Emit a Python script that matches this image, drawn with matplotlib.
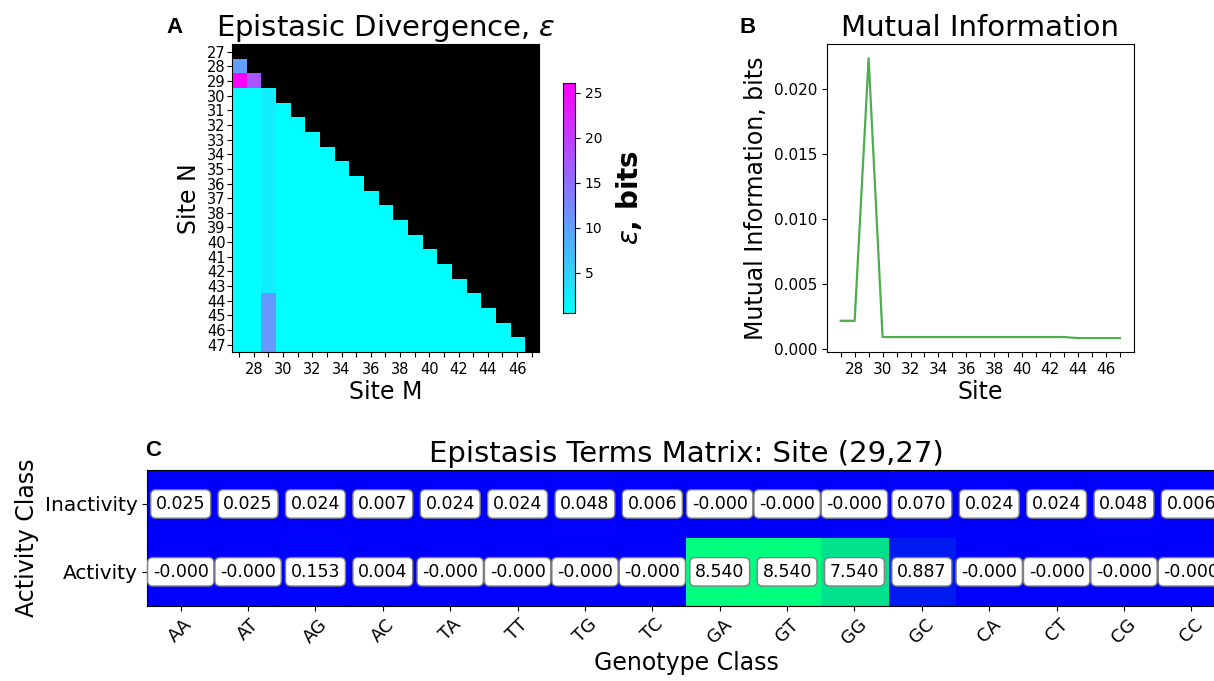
import numpy as np
import matplotlib
matplotlib.use("Agg")
import matplotlib.pyplot as plt

# ---- panel A: epistatic divergence, lower triangle (row = site N, col = site M)
sites = list(range(27, 48))
eps_rows = {
    28: [10.3],
    29: [26.1, 17.6],
    30: [0.55, 0.55, 2.4],
    31: [0.55, 0.55, 2.4, 0.55],
    32: [0.55, 0.55, 2.4, 0.55, 0.55],
    33: [0.55, 0.55, 2.4, 0.55, 0.55, 0.55],
    34: [0.55, 0.55, 2.4, 0.55, 0.55, 0.55, 0.55],
    35: [0.55, 0.55, 2.4, 0.55, 0.55, 0.55, 0.55, 0.55],
    36: [0.55, 0.55, 2.4, 0.55, 0.55, 0.55, 0.55, 0.55, 0.55],
    37: [0.55, 0.55, 2.4, 0.55, 0.55, 0.55, 0.55, 0.55, 0.55, 0.55],
    38: [0.55, 0.55, 2.4, 0.55, 0.55, 0.55, 0.55, 0.55, 0.55, 0.55, 0.55],
    39: [0.55, 0.55, 2.4, 0.55, 0.55, 0.55, 0.55, 0.55, 0.55, 0.55, 0.55, 0.55],
    40: [0.55, 0.55, 2.4, 0.55, 0.55, 0.55, 0.55, 0.55, 0.55, 0.55, 0.55, 0.55, 0.55],
    41: [0.55, 0.55, 2.4, 0.55, 0.55, 0.55, 0.55, 0.55, 0.55, 0.55, 0.55, 0.55, 0.55, 0.55],
    42: [0.55, 0.55, 2.4, 0.55, 0.55, 0.55, 0.55, 0.55, 0.55, 0.55, 0.55, 0.55, 0.55, 0.55, 0.55],
    43: [0.55, 0.55, 2.4, 0.55, 0.55, 0.55, 0.55, 0.55, 0.55, 0.55, 0.55, 0.55, 0.55, 0.55, 0.55, 0.55],
    44: [0.55, 0.55, 10.8, 0.55, 0.55, 0.55, 0.55, 0.55, 0.55, 0.55, 0.55, 0.55, 0.55, 0.55, 0.55, 0.55, 0.55],
    45: [0.55, 0.55, 10.8, 0.55, 0.55, 0.55, 0.55, 0.55, 0.55, 0.55, 0.55, 0.55, 0.55, 0.55, 0.55, 0.55, 0.55, 0.55],
    46: [0.55, 0.55, 10.8, 0.55, 0.55, 0.55, 0.55, 0.55, 0.55, 0.55, 0.55, 0.55, 0.55, 0.55, 0.55, 0.55, 0.55, 0.55, 0.55],
    47: [0.55, 0.55, 10.8, 0.55, 0.55, 0.55, 0.55, 0.55, 0.55, 0.55, 0.55, 0.55, 0.55, 0.55, 0.55, 0.55, 0.55, 0.55, 0.55, 0.55],
}

# ---- panel B: mutual information per site
mi_values = [0.0022, 0.0022, 0.0224, 0.00095, 0.00095, 0.00095, 0.00095,
             0.00095, 0.00095, 0.00095, 0.00095, 0.00095, 0.00095, 0.00095,
             0.00095, 0.00095, 0.00095, 0.00087, 0.00087, 0.00087, 0.00087]

# ---- panel C: epistasis terms matrix
genotypes = ["AA", "AT", "AG", "AC", "TA", "TT", "TG", "TC",
             "GA", "GT", "GG", "GC", "CA", "CT", "CG", "CC"]
classes = ["Inactivity", "Activity"]
inactivity = [0.025, 0.025, 0.024, 0.007, 0.024, 0.024, 0.048, 0.006,
              -0.0001, -0.0001, -0.0001, 0.070, 0.024, 0.024, 0.048, 0.006]
activity = [-0.0001, -0.0001, 0.153, 0.004, -0.0001, -0.0001, -0.0001, -0.0001,
            8.540, 8.540, 7.540, 0.887, -0.0001, -0.0001, -0.0001, -0.0001]

fig = plt.figure(figsize=(12.14, 6.81), dpi=100)

# panel A
n = len(sites)
mat = np.full((n, n), np.nan)
for row_site, vals in eps_rows.items():
    mat[row_site - sites[0], :len(vals)] = vals
cmap_a = plt.get_cmap("cool").copy()
cmap_a.set_bad("black")
axA = fig.add_axes([0.191, 0.483, 0.253, 0.452])
im = axA.imshow(np.ma.masked_invalid(mat), cmap=cmap_a, aspect="auto",
                interpolation="nearest")
axA.set_xticks(range(n))
axA.set_xticklabels([str(s) if s % 2 == 0 else "" for s in sites], fontsize=10.5)
axA.set_yticks(range(n))
axA.set_yticklabels([str(s) for s in sites], fontsize=10.5)
axA.tick_params(axis="y", pad=1)
axA.set_title("Epistasic Divergence, $\\epsilon$", fontsize=21)
axA.set_xlabel("Site M", fontsize=17, labelpad=2)
axA.set_ylabel("Site N", fontsize=17, labelpad=4)

cax = fig.add_axes([0.4638, 0.5404, 0.0099, 0.3377])
cb = fig.colorbar(im, cax=cax)
cb.ax.tick_params(labelsize=10)
cb.set_label("$\\epsilon$, bits", fontsize=20, fontweight="bold", labelpad=8)

# panel B
axB = fig.add_axes([0.681, 0.483, 0.253, 0.452])
axB.plot(sites, mi_values, color="tab:green", lw=1.6, alpha=0.85)
axB.set_xticks(sites)
axB.set_xticklabels([str(s) if s % 2 == 0 else "" for s in sites], fontsize=11)
axB.set_yticks([0.0, 0.005, 0.010, 0.015, 0.020])
axB.set_yticklabels(["0.000", "0.005", "0.010", "0.015", "0.020"], fontsize=11)
axB.set_title("Mutual Information", fontsize=21)
axB.set_xlabel("Site", fontsize=17, labelpad=2)
axB.set_ylabel("Mutual Information, bits", fontsize=17)

# panel C
terms = np.array([inactivity, activity])
axC = fig.add_axes([0.1211, 0.1105, 0.888, 0.1993])
axC.imshow(terms, cmap="winter", aspect="auto", interpolation="nearest")
for i in range(terms.shape[0]):
    for j in range(terms.shape[1]):
        axC.text(j, i, f"{terms[i, j]:.3f}", ha="center", va="center",
                 fontsize=12.5,
                 bbox=dict(boxstyle="round,pad=0.3", fc="white", ec="gray"))
axC.set_xticks(range(len(genotypes)))
axC.set_xticklabels(genotypes, rotation=45, fontsize=13)
axC.set_yticks(range(len(classes)))
axC.set_yticklabels(classes, fontsize=14.5)
axC.set_title("Epistasis Terms Matrix: Site (29,27)", fontsize=21)
axC.set_xlabel("Genotype Class", fontsize=17, labelpad=2)
axC.set_ylabel("Activity Class", fontsize=17)

for letter, x, y in [("A", 0.144, 0.960), ("B", 0.616, 0.960), ("C", 0.126, 0.339)]:
    fig.text(x, y, letter, fontsize=16, fontweight="bold", family="Liberation Sans",
             ha="center", va="center")

fig.savefig("out.png", dpi=100)
plt.close(fig)
